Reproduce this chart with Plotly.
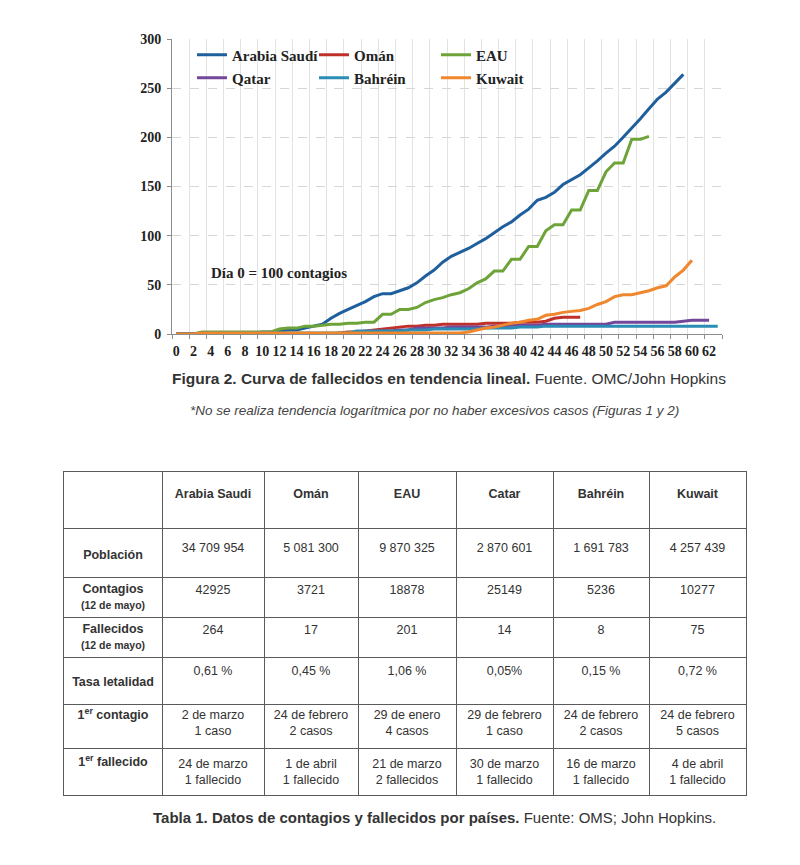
import plotly.graph_objects as go

# ---------------- chart data (deaths by day since 100 cases) ----------------
series_names = ["Arabia Saudí", "Omán", "EAU", "Qatar", "Bahréin", "Kuwait"]

saudi = [0, 0, 0, 1, 1, 1, 1, 1, 1, 1, 2, 2, 3, 4, 4, 6, 8, 10, 16, 21,
         25, 29, 33, 38, 41, 41, 44, 47, 52, 59, 65, 73, 79, 83, 87, 92, 97, 103, 109, 114,
         121, 127, 136, 139, 144, 152, 157, 162, 169, 176, 184, 191, 200, 209, 219, 229, 239, 246, 255, 264]
oman = [0, 0, 0, 0, 0, 0, 0, 0, 0, 0, 0, 0, 0, 0, 0, 0, 0, 0, 0, 1,
        2, 2, 3, 4, 5, 6, 7, 8, 8, 9, 9, 10, 10, 10, 10, 10, 11, 11, 11, 11,
        12, 12, 12, 13, 16, 17, 17, 17]
eau = [0, 0, 0, 2, 2, 2, 2, 2, 2, 2, 2, 2, 5, 6, 6, 8, 8, 9, 10, 10,
       11, 11, 12, 12, 20, 20, 25, 25, 27, 32, 35, 37, 40, 42, 46, 52, 56, 64, 64, 76,
       76, 89, 89, 105, 111, 111, 126, 126, 146, 146, 165, 174, 174, 198, 198, 201]
qatar = [0, 0, 0, 0, 0, 0, 0, 0, 0, 0, 0, 0, 0, 0, 0, 0, 0, 0, 0, 0,
         1, 1, 2, 2, 3, 3, 4, 4, 6, 6, 6, 6, 7, 7, 7, 7, 7, 8, 8, 9,
         9, 9, 9, 10, 10, 10, 10, 10, 10, 10, 10, 12, 12, 12, 12, 12, 12, 12, 12, 13,
         14, 14, 14]
bahrein = [0, 0, 0, 1, 1, 1, 1, 1, 1, 1, 1, 1, 1, 1, 1, 1, 1, 1, 1, 1,
           1, 3, 3, 3, 3, 3, 3, 4, 4, 4, 5, 5, 5, 5, 5, 5, 6, 6, 6, 6,
           7, 7, 7, 8, 8, 8, 8, 8, 8, 8, 8, 8, 8, 8, 8, 8, 8, 8, 8, 8,
           8, 8, 8, 8]
kuwait = [0, 0, 0, 1, 1, 1, 1, 1, 1, 1, 1, 1, 1, 1, 1, 1, 1, 1, 1, 1,
          1, 1, 1, 1, 1, 1, 1, 1, 1, 1, 1, 1, 1, 1, 2, 4, 6, 7, 9, 11,
          12, 14, 15, 19, 20, 22, 23, 24, 26, 30, 33, 38, 40, 40, 42, 44, 47, 49, 58, 65,
          75]

series_values = [saudi, oman, eau, qatar, bahrein, kuwait]
series_colors = ["#1f5f9c", "#c0302b", "#6ea33a", "#74479a", "#2b8db5", "#f0872d"]
legend_ids = ["legend", "legend", "legend", "legend2", "legend2", "legend2"]

x_tick_labels = list(range(0, 63, 2))
y_tick_labels = [0, 50, 100, 150, 200, 250, 300]

# ---------------- table data ----------------
table_countries = ["Arabia Saudi", "Omán", "EAU", "Catar", "Bahréin", "Kuwait"]
row_labels = ["Población", "Contagios|(12 de mayo)", "Fallecidos|(12 de mayo)",
              "Tasa letalidad", "1er contagio", "1er fallecido"]
poblacion = ["34 709 954", "5 081 300", "9 870 325", "2 870 601", "1 691 783", "4 257 439"]
contagios = ["42925", "3721", "18878", "25149", "5236", "10277"]
fallecidos = ["264", "17", "201", "14", "8", "75"]
tasa = ["0,61 %", "0,45 %", "1,06 %", "0,05%", "0,15 %", "0,72 %"]
primer_contagio = ["2 de marzo|1 caso", "24 de febrero|2 casos", "29 de enero|4 casos",
                   "29 de febrero|1 caso", "24 de febrero|2 casos", "24 de febrero|5 casos"]
primer_fallecido = ["24 de marzo|1 fallecido", "1 de abril|1 fallecido", "21 de marzo|2 fallecidos",
                    "30 de marzo|1 fallecido", "16 de marzo|1 fallecido", "4 de abril|1 fallecido"]

# ---------------- layout constants (pixels) ----------------
W, H = 800, 865
SERIF = "Liberation Serif"
SANS = "Liberation Sans"
TXT = "#333333"

T_LEFT, T_TOP = 64, 472
col_widths = [98, 102, 94, 98, 97, 96, 97]
row_heights = [56, 49, 40, 40, 47, 44, 47]
label_offsets = [22, 28, 21, 21, 26, 12, 15]   # vertical centre of row-label text from row top
value_offsets = [23, 21, 14, 14, 15, 20, 25]   # vertical centre of value text from row top

col_edges = [T_LEFT]
for w in col_widths:
    col_edges.append(col_edges[-1] + w)
row_edges = [T_TOP]
for h in row_heights:
    row_edges.append(row_edges[-1] + h)
T_RIGHT, T_BOTTOM = col_edges[-1], row_edges[-1]
col_centres = [(a + b) / 2 for a, b in zip(col_edges[:-1], col_edges[1:])]

fig = go.Figure()
for name, vals, col, lg in zip(series_names, series_values, series_colors, legend_ids):
    fig.add_trace(go.Scatter(
        x=list(range(len(vals))), y=vals, mode="lines", name=name,
        line=dict(color=col, width=3), legend=lg, hoverinfo="skip"))


def fmt_label(s):
    parts = s.split("|")
    main = parts[0].replace("1er", "1<sup>er</sup>")
    out = "<b>" + main + "</b>"
    if len(parts) > 1:
        out += "<br><b><span style='font-size:10.5px'>" + parts[1] + "</span></b>"
    return out


def fmt_val(s):
    return "<br>".join(s.split("|"))


# header texts
hx, hy, ht = [], [], []
for i, c in enumerate(table_countries):
    hx.append(col_centres[i + 1])
    hy.append(row_edges[0] + value_offsets[0])
    ht.append("<b>" + c + "</b>")
# row labels
lx, ly, lt = [], [], []
for r, lab in enumerate(row_labels):
    lx.append(col_centres[0])
    ly.append(row_edges[r + 1] + label_offsets[r + 1])
    lt.append(fmt_label(lab))
# values
rows_data = [poblacion, contagios, fallecidos, tasa, primer_contagio, primer_fallecido]
vx, vy, vt = [], [], []
for r, rowvals in enumerate(rows_data):
    for i, v in enumerate(rowvals):
        vx.append(col_centres[i + 1])
        vy.append(row_edges[r + 1] + value_offsets[r + 1])
        vt.append(fmt_val(v))

for xs, ys, ts in [(hx, hy, ht), (lx, ly, lt), (vx, vy, vt)]:
    fig.add_trace(go.Scatter(
        x=xs, y=ys, text=ts, mode="text", textposition="middle center",
        textfont=dict(family=SANS, size=12.5, color=TXT),
        xaxis="x2", yaxis="y2", showlegend=False, hoverinfo="skip", cliponaxis=False))

legend_common = dict(orientation="h", xanchor="left", yanchor="middle",
                     entrywidth=77, bgcolor="rgba(0,0,0,0)",
                     font=dict(family=SERIF, size=15, color="#222222", weight="bold"),
                     traceorder="normal")

fig.update_layout(
    width=W, height=H, autosize=False,
    margin=dict(l=0, r=0, t=0, b=0, pad=0, autoexpand=False),
    paper_bgcolor="white", plot_bgcolor="white",
    font=dict(family=SERIF, size=14, color="#222222"),
    showlegend=True,
    legend=dict(x=192 / W, y=1 - 55 / H, **legend_common),
    legend2=dict(x=192 / W, y=1 - 78 / H, **legend_common),
    xaxis=dict(domain=[172 / W, 722 / W], range=[-0.5, 63.5], anchor="y", automargin=False,
               tickmode="array", tickvals=x_tick_labels, ticktext=[str(v) for v in x_tick_labels],
               tickangle=0, ticks="", showgrid=False, zeroline=False, ticklabelstandoff=4,
               showline=True, linecolor="#8c8c8c", linewidth=1,
               tickfont=dict(family=SERIF, size=14, color="#222222", weight="bold"),
               minor=dict(tickmode="linear", tick0=-0.5, dtick=2, showgrid=True,
                          gridcolor="#e3e3e3", gridwidth=1, ticks="outside", ticklen=4,
                          tickcolor="#8c8c8c")),
    yaxis=dict(domain=[1 - 334 / H, 1 - 39 / H], range=[0, 300], anchor="x", automargin=False,
               tickmode="array", tickvals=y_tick_labels, ticklabelstandoff=3,
               showgrid=True, gridcolor="#d6d6d6", griddash="dash", gridwidth=1,
               zeroline=False, showline=True, linecolor="#8c8c8c", linewidth=1,
               ticks="outside", ticklen=4, tickcolor="#8c8c8c",
               tickfont=dict(family=SERIF, size=14, color="#222222", weight="bold")),
    xaxis2=dict(domain=[T_LEFT / W, T_RIGHT / W], range=[T_LEFT, T_RIGHT], anchor="y2",
                automargin=False,
                tickmode="array", tickvals=col_edges[1:-1], showticklabels=False, ticks="",
                showgrid=True, gridcolor="#5a5a5a", gridwidth=1.2, zeroline=False,
                showline=True, mirror=True, linecolor="#5a5a5a", linewidth=1.2, fixedrange=True),
    yaxis2=dict(domain=[1 - T_BOTTOM / H, 1 - T_TOP / H], range=[T_BOTTOM, T_TOP], anchor="x2",
                automargin=False,
                tickmode="array", tickvals=row_edges[1:-1], showticklabels=False, ticks="",
                showgrid=True, gridcolor="#5a5a5a", gridwidth=1.2, zeroline=False,
                showline=True, mirror=True, linecolor="#5a5a5a", linewidth=1.2, fixedrange=True),
    annotations=[
        dict(text="<b>Día 0 = 100 contagios</b>", x=12, y=62, xref="x", yref="y",
             xanchor="center", yanchor="middle",
             showarrow=False, font=dict(family=SERIF, size=15, color="#222222")),
        dict(text="<b>Figura 2. Curva de fallecidos en tendencia lineal.</b> Fuente. OMC/John Hopkins",
             x=449 / W, y=1 - 378 / H, xref="paper", yref="paper", showarrow=False,
             xanchor="center", yanchor="middle",
             font=dict(family=SANS, size=15.5, color=TXT)),
        dict(text="<i>*No se realiza tendencia logarítmica por no haber excesivos casos (Figuras 1 y 2)</i>",
             x=435 / W, y=1 - 411 / H, xref="paper", yref="paper", showarrow=False,
             xanchor="center", yanchor="middle",
             font=dict(family=SANS, size=13.5, color="#444444")),
        dict(text="<b>Tabla 1. Datos de contagios y fallecidos por países.</b> Fuente: OMS; John Hopkins.",
             x=435 / W, y=1 - 817 / H, xref="paper", yref="paper", showarrow=False,
             xanchor="center", yanchor="middle",
             font=dict(family=SANS, size=15, color=TXT)),
    ],
)

fig.write_html("out.html", config={"displayModeBar": False},
               post_script="document.body.style.margin='0';")
